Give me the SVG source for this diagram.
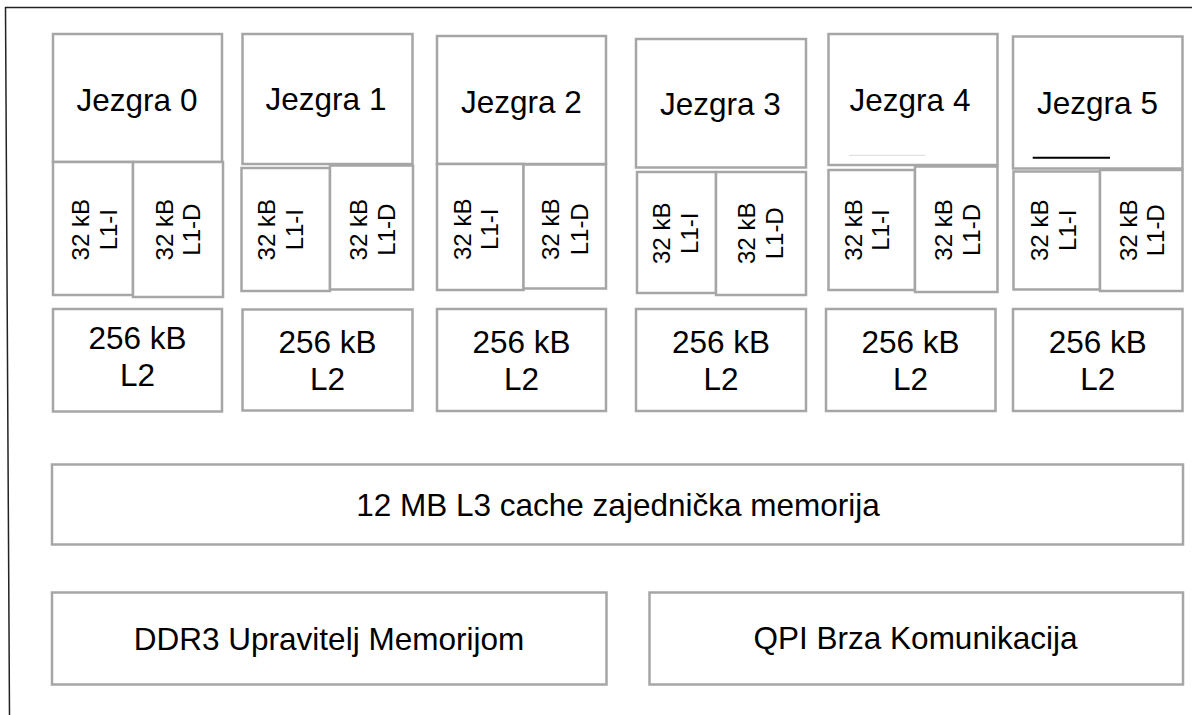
<svg xmlns="http://www.w3.org/2000/svg" width="1192" height="715" viewBox="0 0 1192 715">
<style>
.b{fill:#fff;stroke:#a6a6a6;stroke-width:2.5}
.t{font-family:"Liberation Sans",Arial,sans-serif;font-size:31.5px;fill:#000;text-anchor:middle}
.s{font-family:"Liberation Sans",Arial,sans-serif;font-size:24px;fill:#000;text-anchor:middle}
</style>
<rect width="1192" height="715" fill="#fff"/>
<g id="frame">
<path d="M1192 7.5 H5.5 L9.5 715" fill="none" stroke="#222" stroke-width="1.5"/>
</g>
<g id="core0">
<rect class="b" x="53" y="34" width="169" height="128"/>
<text class="t" x="137" y="111">Jezgra 0</text>
</g>
<g id="l1i0"><rect class="b" x="53" y="162" width="80" height="133"/>
<text class="s" transform="translate(89.3 229.7) rotate(-90)">32 kB</text>
<text class="s" transform="translate(117.3 229.7) rotate(-90)">L1-I</text></g>
<g id="l1d0"><rect class="b" x="133" y="162" width="90" height="135"/>
<text class="s" transform="translate(173.3 229.7) rotate(-90)">32 kB</text>
<text class="s" transform="translate(200 229.7) rotate(-90)">L1-D</text></g>
<g id="l2_0"><rect class="b" x="53" y="309" width="169" height="102.5"/>
<text class="t" x="137.5" y="349.3">256 kB</text><text class="t" x="137.5" y="386">L2</text></g>

<g id="core1"><rect class="b" x="242.5" y="34" width="170" height="130"/>
<text class="t" x="326" y="110">Jezgra 1</text></g>
<g id="l1i1"><rect class="b" x="241.5" y="168" width="88.5" height="123"/>
<text class="s" transform="translate(275.3 229.7) rotate(-90)">32 kB</text>
<text class="s" transform="translate(303.3 229.7) rotate(-90)">L1-I</text></g>
<g id="l1d1"><rect class="b" x="330" y="165.5" width="83" height="124"/>
<text class="s" transform="translate(366.7 229.7) rotate(-90)">32 kB</text>
<text class="s" transform="translate(395 229.7) rotate(-90)">L1-D</text></g>
<g id="l2_1"><rect class="b" x="242.5" y="309.5" width="170" height="101"/>
<text class="t" x="327.5" y="353.3">256 kB</text><text class="t" x="327.5" y="390">L2</text></g>

<g id="core2"><rect class="b" x="437" y="36" width="169" height="128"/>
<text class="t" x="521.3" y="112.7">Jezgra 2</text></g>
<g id="l1i2"><rect class="b" x="437" y="164" width="86.5" height="126"/>
<text class="s" transform="translate(470.7 229.3) rotate(-90)">32 kB</text>
<text class="s" transform="translate(498.3 229.3) rotate(-90)">L1-I</text></g>
<g id="l1d2"><rect class="b" x="523.5" y="164.5" width="82.5" height="124"/>
<text class="s" transform="translate(559.3 229.3) rotate(-90)">32 kB</text>
<text class="s" transform="translate(587.7 229.3) rotate(-90)">L1-D</text></g>
<g id="l2_2"><rect class="b" x="437" y="309" width="169" height="102"/>
<text class="t" x="521.5" y="353.3">256 kB</text><text class="t" x="521.5" y="390">L2</text></g>

<g id="core3"><rect class="b" x="636" y="39" width="170" height="128.5"/>
<text class="t" x="720.3" y="115">Jezgra 3</text></g>
<g id="l1i3"><rect class="b" x="637" y="172" width="79" height="121"/>
<text class="s" transform="translate(670 233.3) rotate(-90)">32 kB</text>
<text class="s" transform="translate(698.3 233.3) rotate(-90)">L1-I</text></g>
<g id="l1d3"><rect class="b" x="716" y="172" width="90" height="123"/>
<text class="s" transform="translate(755 233.3) rotate(-90)">32 kB</text>
<text class="s" transform="translate(783.3 233.3) rotate(-90)">L1-D</text></g>
<g id="l2_3"><rect class="b" x="636" y="309" width="170" height="102"/>
<text class="t" x="721" y="353.3">256 kB</text><text class="t" x="721" y="390">L2</text></g>

<g id="core4"><rect class="b" x="828.5" y="34" width="169" height="131"/>
<text class="t" x="910" y="111">Jezgra 4</text>
<line x1="849" y1="155.3" x2="925" y2="155.3" stroke="#d9d9d9" stroke-width="1"/></g>
<g id="l1i4"><rect class="b" x="828.5" y="170" width="86.5" height="120"/>
<text class="s" transform="translate(861.7 230) rotate(-90)">32 kB</text>
<text class="s" transform="translate(889.3 230) rotate(-90)">L1-I</text></g>
<g id="l1d4"><rect class="b" x="915" y="166.5" width="82.5" height="125.5"/>
<text class="s" transform="translate(951.7 230) rotate(-90)">32 kB</text>
<text class="s" transform="translate(980 230) rotate(-90)">L1-D</text></g>
<g id="l2_4"><rect class="b" x="826" y="309" width="169.5" height="102"/>
<text class="t" x="910.5" y="353.3">256 kB</text><text class="t" x="910.5" y="390">L2</text></g>

<g id="core5"><rect class="b" x="1013" y="36.5" width="169.5" height="132"/>
<text class="t" x="1097.5" y="114.3">Jezgra 5</text>
<line x1="1032.7" y1="157.7" x2="1110" y2="157.7" stroke="#000" stroke-width="2"/></g>
<g id="l1i5"><rect class="b" x="1013.5" y="171.5" width="86.5" height="118"/>
<text class="s" transform="translate(1048.3 230.3) rotate(-90)">32 kB</text>
<text class="s" transform="translate(1075.7 230.3) rotate(-90)">L1-I</text></g>
<g id="l1d5"><rect class="b" x="1100" y="170" width="82.5" height="121"/>
<text class="s" transform="translate(1136.7 230.3) rotate(-90)">32 kB</text>
<text class="s" transform="translate(1164.3 230.3) rotate(-90)">L1-D</text></g>
<g id="l2_5"><rect class="b" x="1013" y="309" width="169.5" height="102"/>
<text class="t" x="1097.75" y="353.3">256 kB</text><text class="t" x="1097.75" y="390">L2</text></g>

<g id="l3"><rect class="b" x="52" y="464.5" width="1131" height="80"/>
<text class="t" x="618" y="516">12 MB L3 cache zajednička memorija</text></g>
<g id="ddr3"><rect class="b" x="52" y="592.5" width="554.5" height="92"/>
<text class="t" x="329" y="650">DDR3 Upravitelj Memorijom</text></g>
<g id="qpi"><rect class="b" x="649.5" y="592.5" width="533.5" height="92"/>
<text class="t" x="915.5" y="649.3">QPI Brza Komunikacija</text></g>
<g id="connectors"/>
</svg>
